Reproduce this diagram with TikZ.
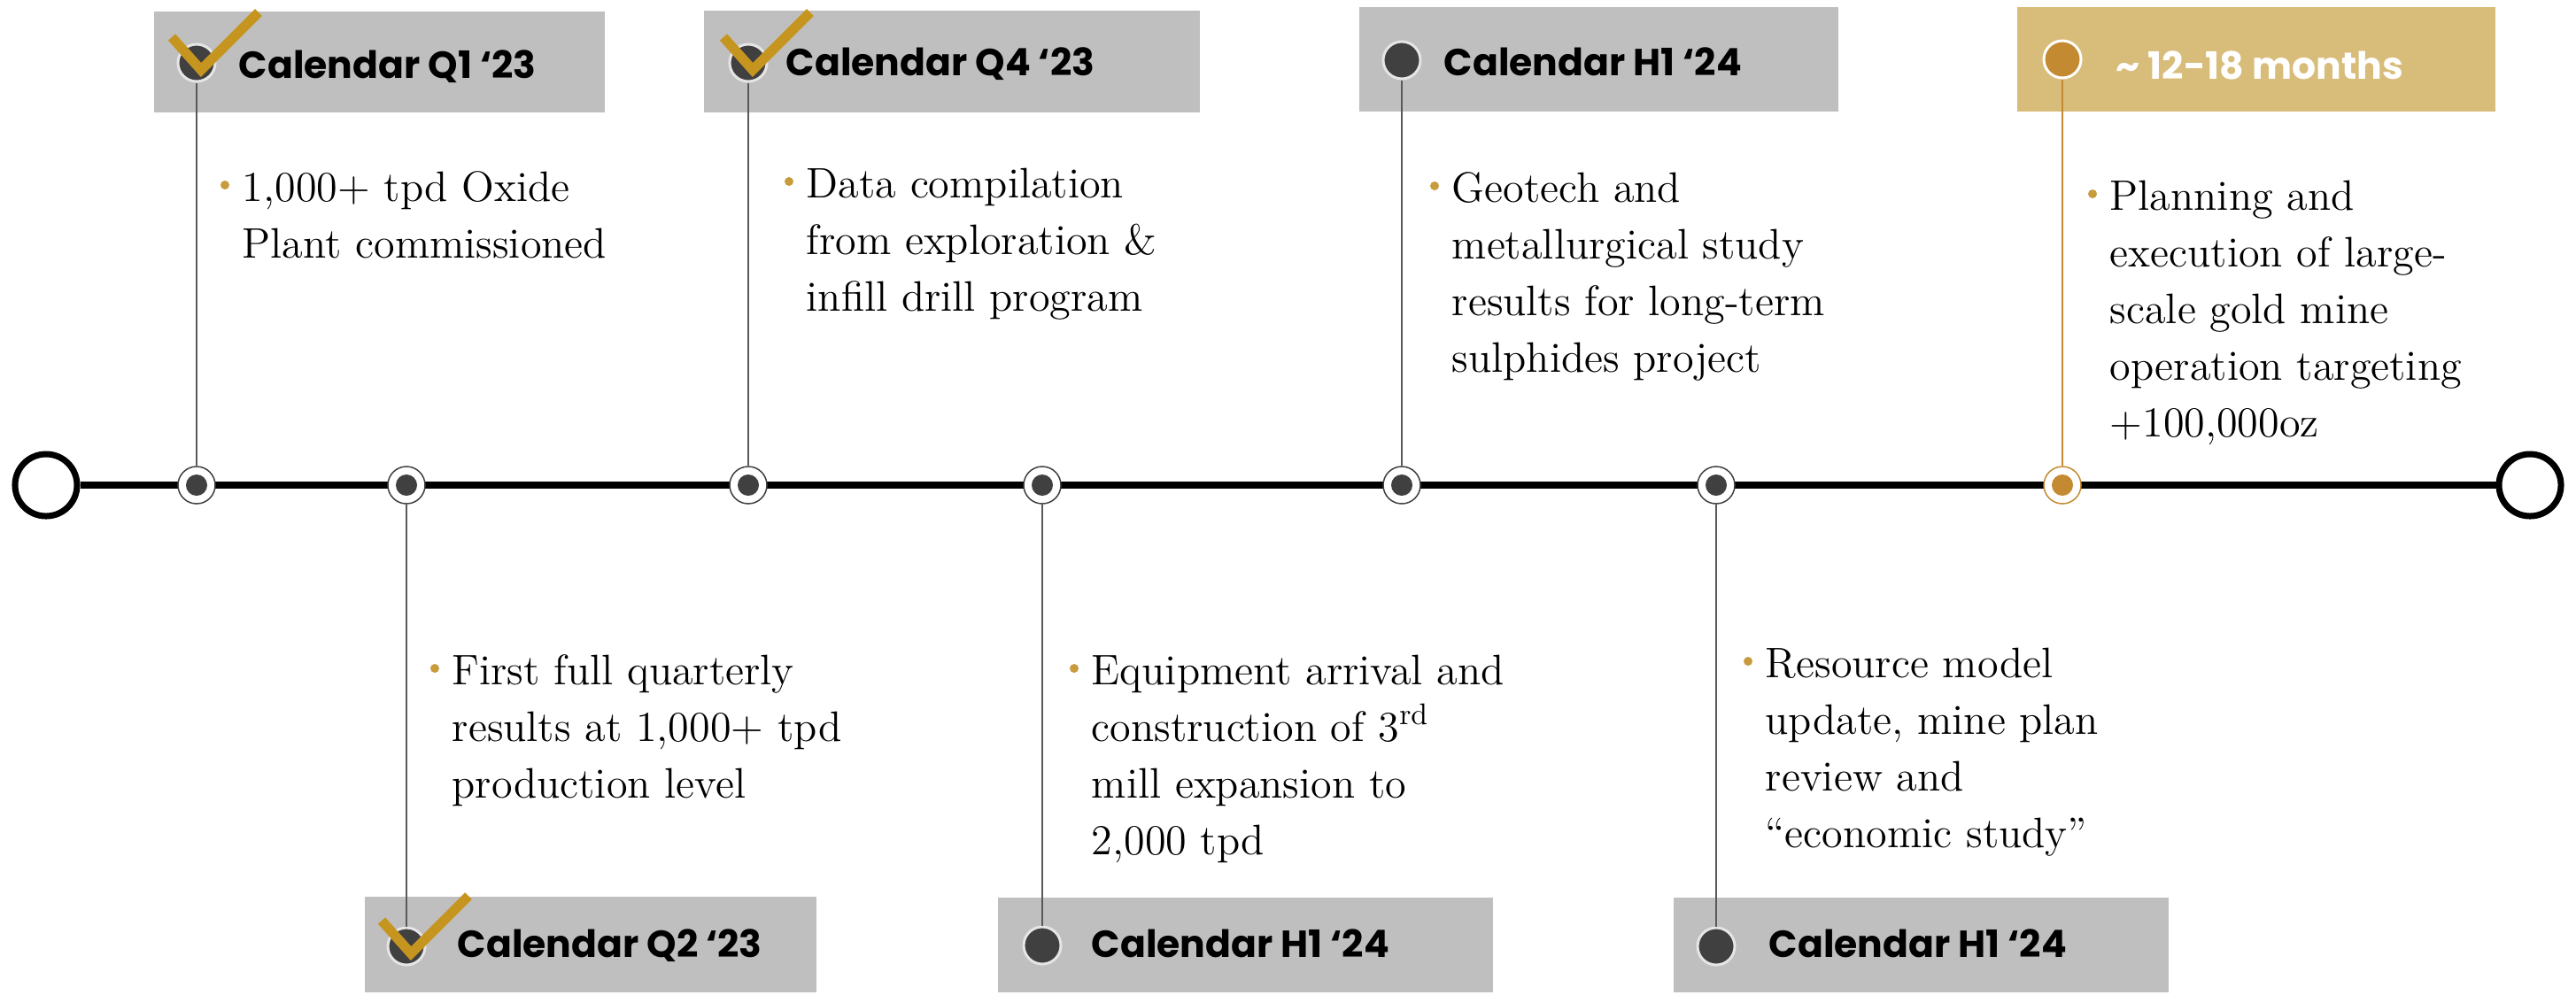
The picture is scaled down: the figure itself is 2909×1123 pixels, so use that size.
\documentclass[tikz,border=0pt]{standalone}
\usepackage{fontspec}
\newfontfamily\headfont{Poppins}
\usetikzlibrary{positioning}

\definecolor{boxgray}{HTML}{BFBFBF}
\definecolor{boxgold}{HTML}{D8BC79}
\definecolor{tickgold}{HTML}{C69520}
\definecolor{dotgold}{HTML}{C48A32}
\definecolor{bulletgold}{HTML}{C89B3C}
\definecolor{dotgray}{HTML}{404040}
\definecolor{linegray}{HTML}{595959}

\begin{document}
\begin{tikzpicture}
  [x=0.01cm,y=-0.01cm,
   head/.style={anchor=base west,inner sep=0,font=\headfont\bfseries\fontsize{12.1}{15}\selectfont},
   body/.style={anchor=north west,inner sep=0,align=left,font=\fontsize{13.7}{18.2}\selectfont},
   ends/.style={circle,draw=black,fill=white,line width=0.07cm,minimum size=0.70cm,inner sep=0},
   stop/.style={circle,draw=dotgray,fill=white,line width=0.015cm,minimum size=0.42cm,inner sep=0,
     path picture={\fill[dotgray] (path picture bounding box.center) circle (0.12cm);}},
   goldstop/.style={stop,draw=dotgold,
     path picture={\fill[dotgold] (path picture bounding box.center) circle (0.12cm);}},
   pin/.style={circle,fill=dotgray,draw=white!80!gray,line width=0.03cm,minimum size=0.42cm,inner sep=0},
   link/.style={draw=linegray,line width=0.02cm},
   tickmark/.style={draw=tickgold,line width=0.11cm}]
  \useasboundingbox (0,0) rectangle (2909,1123);

  % boxes
  \fill[boxgray] (174,13) rectangle (683,127);
  \fill[boxgray] (795,12) rectangle (1355,127);
  \fill[boxgray] (1535,8) rectangle (2076,126);
  \fill[boxgold] (2278,8) rectangle (2818,126);
  \fill[boxgray] (412,1013) rectangle (922,1121);
  \fill[boxgray] (1127,1014) rectangle (1686,1121);
  \fill[boxgray] (1890,1014) rectangle (2449,1121);

  % timeline
  \node[ends] (lend) at (52,548) {};
  \node[ends] (rend) at (2857,548) {};
  \draw[line width=0.08cm] (lend) -- (rend);

  \node[stop] (q1) at (222,548) {};
  \node[stop] (q2) at (459,548) {};
  \node[stop] (q4) at (845,548) {};
  \node[stop] (h1a) at (1177,548) {};
  \node[stop] (h1b) at (1583,548) {};
  \node[stop] (h1c) at (1938,548) {};
  \node[goldstop] (ms) at (2329,548) {};

  \node[pin] (q1pin) at (222,71) {};
  \node[pin] (q4pin) at (845,71) {};
  \node[pin] (h1bpin) at (1583,68) {};
  \node[pin,fill=dotgold,draw=white] (mspin) at (2329,67) {};
  \node[pin] (q2pin) at (459,1069) {};
  \node[pin] (h1apin) at (1177,1068) {};
  \node[pin] (h1cpin) at (1938,1069) {};

  \foreach \a in {q1,q2,q4,h1a,h1b,h1c}
    \draw[link] (\a pin) -- (\a);
  \draw[link,draw=dotgold] (mspin) -- (ms);

  % ticks
  \foreach \a in {q1pin,q4pin,q2pin}
    \draw[tickmark] ([shift={(-28,-29)}]\a.center) -- ([shift={(5,8)}]\a.center)
      -- ([shift={(70,-57)}]\a.center);

  % headings
  \node[head] (q1head) at (269,88) {Calendar Q1 ‘23};
  \node[head] (q4head) at (887,85) {Calendar Q4 ‘23};
  \node[head] (h1bhead) at (1630,85) {Calendar H1 ‘24};
  \node[head,text=white] (mshead) at (2389,89) {\textasciitilde{} 12-18 months};
  \node[head] (q2head) at (516,1081) {Calendar Q2 ‘23};
  \node[head] (h1ahead) at (1232,1081) {Calendar H1 ‘24};
  \node[head] (h1chead) at (1997,1081) {Calendar H1 ‘24};

  % bullet texts
  \node[body] (q1txt) at (273,193) {1,000+ tpd Oxide\\Plant commissioned};
  \node[body] (q4txt) at (910,189) {Data compilation\\from exploration \&\\infill drill program};
  \node[body] (h1btxt) at (1639,194) {Geotech and\\metallurgical study\\results for long-term\\sulphides project};
  \node[body] (mstxt) at (2382,203) {Planning and\\execution of large-\\scale gold mine\\operation targeting\\+100,000oz};
  \node[body] (q2txt) at (510,739) {First full quarterly\\results at 1,000+ tpd\\production level};
  \node[body] (h1atxt) at (1232,739) {Equipment arrival and\\construction of 3\textsuperscript{rd}\\mill expansion to\\2,000 tpd};
  \node[body] (h1ctxt) at (1993,731) {Resource model\\update, mine plan\\review and\\“economic study”};

  \foreach \a in {q1,q4,h1b,ms,q2,h1a,h1c}
    \fill[bulletgold] ([shift={(-19,16)}]\a txt.north west) circle (0.05cm);
\end{tikzpicture}
\end{document}
